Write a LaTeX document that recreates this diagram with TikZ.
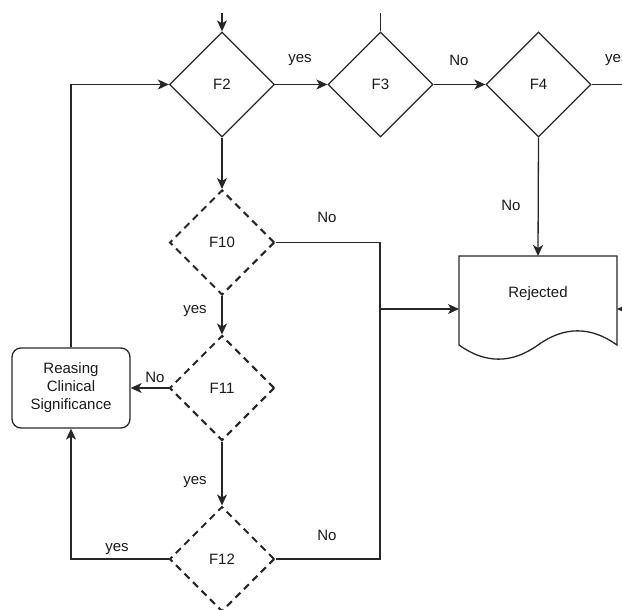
\documentclass[tikz,border=0pt]{standalone}
\usepackage{fontspec}
\setmainfont{Liberation Sans}
\usetikzlibrary{shapes.geometric,arrows.meta}
\begin{document}
\begin{tikzpicture}[x=1pt,y=-1pt,
  font=\fontsize{15}{18}\selectfont,
  every node/.style={text=black!90},
  dec/.style={diamond,draw=black!85,line width=1.3pt,minimum width=105pt,minimum height=105pt,inner sep=0pt},
  decd/.style={dec,line width=2pt,dash pattern=on 7pt off 5pt},
  con/.style={draw=black!85,line width=1.3pt},
  arr/.style={con,-{Stealth[length=11pt,width=10pt,inset=3pt]}},
  lbl/.style={inner sep=0pt},
  rbox/.style={draw=black!85,line width=1.3pt,rounded corners=9pt,minimum width=118pt,minimum height=80pt,align=center,inner sep=0pt}
]
\useasboundingbox (0,0) rectangle (622,610);
\clip (0,0) rectangle (622,610);

% diamonds
\node[dec] (F2) at (222,84.5) {F2};
\node[dec] (F3) at (380.5,84.5) {F3};
\node[dec] (F4) at (538.5,84.5) {F4};
\node[decd] (F10) at (222,242.5) {F10};
\node[decd] (F11) at (222,388) {F11};
\node[decd] (F12) at (222,559) {F12};

% box
\node[rbox] (R) at (71,388) {Reasing\\Clinical\\Significance};

% rejected document shape
\draw[con,fill=white] (459,256) -- (617,256) -- (617,345)
  .. controls (590.67,326.13) and (564.33,326.13) .. (538,345)
  .. controls (511.67,363.87) and (485.33,363.87) .. (459,345) -- cycle;
\node (Rej) at (538,294) {Rejected};
\coordinate (RejN) at (538,256);
\coordinate (RejW) at (459,309);
\coordinate (RejE) at (617,309);

% free ends
\coordinate (t2) at (222,13);
\coordinate (t3) at (380.5,13);
\coordinate (e4) at (640,84.5);
\coordinate (eR) at (640,309);
\coordinate (j1) at (380,242.5);
\coordinate (j2) at (380,559);
\coordinate (j3) at (380,309);
\coordinate (b1) at (71,559);
\coordinate (b2) at (71,84.5);

% connectors
\draw[arr] (t2) -- (F2.north);
\draw[con] (t3) -- (F3.north);
\draw[arr] (F2.east) -- (F3.west);
\draw[arr] (F3.east) -- (F4.west);
\draw[con] (F4.east) -- (e4);
\draw[arr] (F4.south) -- (RejN);
\draw[arr] (eR) -- (RejE);
\draw[arr] (F2.south) -- (F10.north);
\draw[con] (F10.east) -- (j1) -- (j2) -- (F12.east);
\draw[arr] (j3) -- (RejW);
\draw[arr] (F10.south) -- (F11.north);
\draw[arr] (F11.west) -- (R.east);
\draw[arr] (F11.south) -- (F12.north);
\draw[arr] (F12.west) -- (b1) -- (R.south);
\draw[arr] (R.north) -- (b2) -- (F2.west);

% labels
\node[lbl] (l1) at (300,60) {yes};
\node[lbl] (l2) at (459,60) {No};
\node[lbl,anchor=west] (l3) at (605,60) {yes};
\node[lbl] (l4) at (511,205) {No};
\node[lbl] (l5) at (327,217) {No};
\node[lbl] (l6) at (195,311) {yes};
\node[lbl] (l7) at (155,377) {No};
\node[lbl] (l8) at (195,482) {yes};
\node[lbl] (l9) at (117,549) {yes};
\node[lbl] (l10) at (327,535) {No};
\end{tikzpicture}
\end{document}
